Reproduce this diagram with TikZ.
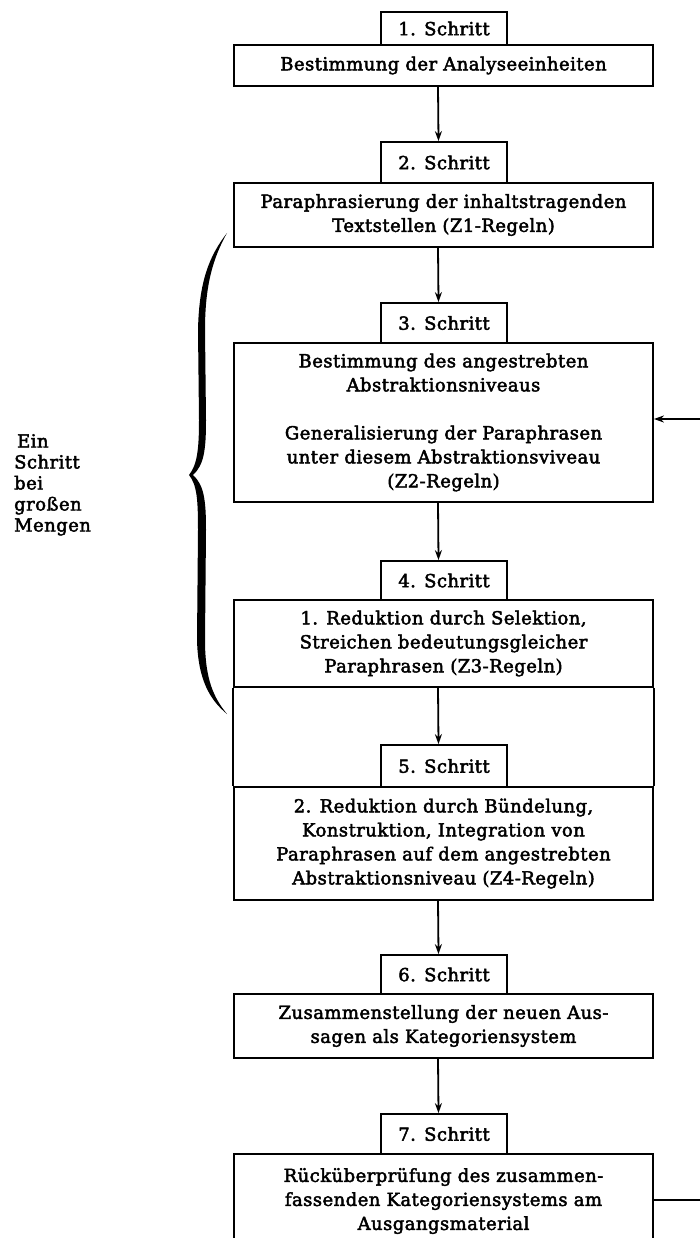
\documentclass[tikz,border=0pt]{standalone}
\usepackage{fontspec}
\setmainfont{DejaVu Serif}[LetterSpace=2.5, FakeBold=2.5]
\usetikzlibrary{arrows.meta}
\tikzset{
  box/.style={draw, line width=1.8pt, minimum width=419pt, inner sep=0pt, align=center,
    font=\fontsize{18}{24}\selectfont},
  stepbox/.style={draw, fill=white, line width=1.8pt, minimum width=126pt, inner sep=0pt,
    font=\fontsize{18}{24}\selectfont},
  conn/.style={line width=1.8pt},
  arr/.style={line width=1.8pt, -{Stealth[length=10pt,width=7pt]}},
}
\begin{document}
\begin{tikzpicture}[x=1pt,y=-1pt]
\useasboundingbox (0,0) rectangle (699,1238);
% main boxes
\node[box, minimum height=41pt] (m1) at (443.5,65.5) {Bestimmung der Analyseeinheiten};
\node[box, minimum height=64pt] (m2) at (443.5,215) {Paraphrasierung der inhaltstragenden\\Textstellen (Z1-Regeln)};
\node[box, minimum height=159pt] (m3) at (443.5,422.5) {Bestimmung des angestrebten\\Abstraktionsniveaus\\[24pt]Generalisierung der Paraphrasen\\unter diesem Abstraktionsviveau\\(Z2-Regeln)};
\node[box, minimum height=87pt] (m4) at (443.5,643.5) {1. Reduktion durch Selektion,\\Streichen bedeutungsgleicher\\Paraphrasen (Z3-Regeln)};
\node[box, minimum height=113pt] (m5) at (443.5,843.5) {2. Reduktion durch Bündelung,\\Konstruktion, Integration von\\Paraphrasen auf dem angestrebten\\Abstraktionsniveau (Z4-Regeln)};
\node[box, minimum height=64pt] (m6) at (443.5,1026) {Zusammenstellung der neuen Aus-\\sagen als Kategoriensystem};
\node[box, minimum height=94pt] (m7) at (443.5,1201) {Rücküberprüfung des zusammen-\\fassenden Kategoriensystems am\\Ausgangsmaterial};
% step boxes
\node[stepbox, minimum height=33pt] (s1) at (444,28.5) {1. Schritt};
\node[stepbox, minimum height=41pt] (s2) at (444,162.5) {2. Schritt};
\node[stepbox, minimum height=40pt] (s3) at (444,323) {3. Schritt};
\node[stepbox, minimum height=39pt] (s4) at (444,580.5) {4. Schritt};
\node[stepbox, minimum height=42pt] (s5) at (444,766) {5. Schritt};
\node[stepbox, minimum height=39pt] (s6) at (444,974.5) {6. Schritt};
\node[stepbox, minimum height=40pt] (s7) at (444,1134) {7. Schritt};
% frame between 4 and 5
\draw[conn] (m4.south west) -- (m5.north west);
\draw[conn] (m4.south east) -- (m5.north east);
% arrows
\draw[arr] ([xshift=-5.5pt]m1.south) -- ([xshift=-5.5pt]s2.north);
\draw[arr] ([xshift=-5.5pt]m2.south) -- ([xshift=-5.5pt]s3.north);
\draw[arr] ([xshift=-5.5pt]m3.south) -- ([xshift=-5.5pt]s4.north);
\draw[arr] ([xshift=-5.5pt]m4.south) -- ([xshift=-5.5pt]s5.north);
\draw[arr] ([xshift=-5.5pt]m5.south) -- ([xshift=-5.5pt]s6.north);
\draw[arr] ([xshift=-5.5pt]m6.south) -- ([xshift=-5.5pt]s7.north);
% feedback loop
\coordinate (fb1) at (703,1200);
\coordinate (fb2) at (703,419);
\draw[arr] (m7.east |- fb1) -- (fb1) -- (fb2) -- (m3.east |- fb2);
% brace
\fill (227,233) .. controls (210,255) and (199,280) .. (198,330) -- (199,420)
  .. controls (199,450) and (197,465) .. (189,475)
  .. controls (197,485) and (198,500) .. (198,530) -- (197,640)
  .. controls (198,680) and (210,700) .. (227,714)
  .. controls (214,698) and (205,680) .. (205,640) -- (206,530)
  .. controls (206,500) and (204,485) .. (193,475)
  .. controls (204,465) and (206,450) .. (206,420) -- (205,330)
  .. controls (205,285) and (213,258) .. (227,233) -- cycle;
\node[anchor=north west, align=left, inner sep=0pt, font=\fontsize{18}{21}\selectfont] (lbl) at (14,434) {\,Ein\\Schritt\\bei\\großen\\Mengen};
\end{tikzpicture}
\end{document}
